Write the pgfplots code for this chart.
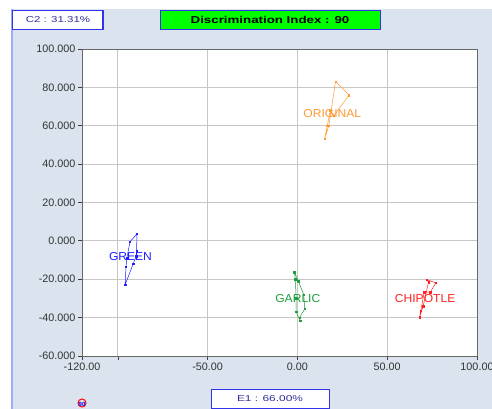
\documentclass[border=0pt]{standalone}
\usepackage{pgfplots}
\pgfplotsset{compat=1.18}
\usepackage{fontspec}
\setmainfont{Liberation Sans}
\definecolor{bgc}{HTML}{DAE3EE}
\definecolor{edgeb}{HTML}{9CAEF2}
\definecolor{boxb}{HTML}{3333EE}
\definecolor{txtb}{HTML}{2E2EA0}
\definecolor{cgreen}{HTML}{1F1FFF}
\definecolor{cgarlic}{HTML}{1E9E3C}
\definecolor{cchip}{HTML}{FF2020}
\definecolor{corig}{HTML}{FF9A33}
\definecolor{lime}{HTML}{00FF00}
\begin{document}
\begin{tikzpicture}[x=1pt,y=1pt]
\useasboundingbox (0,0) rectangle (492,409);
\fill[bgc] (12,0) rectangle (492,400);
\draw[edgeb,line width=1.5pt] (12,0) -- (12,400);
% top boxes
\draw[boxb,fill=white,line width=0.6pt] (12,380) rectangle (103,399);
\draw[boxb,line width=1.5pt] (103,380) -- (103,399);
\node[txtb,font=\fontsize{8.5}{10}\selectfont,xscale=1.35] at (58,389.5) {C2 : 31.31\%};
\draw[boxb,fill=lime,line width=0.6pt] (160,380) rectangle (380,399);
\node[font=\fontsize{10}{11}\selectfont\bfseries,xscale=1.33] at (270,389.5) {Discrimination Index : 90};
\draw[boxb,fill=white,line width=0.6pt] (211,1) rectangle (329,20);
\node[txtb,font=\fontsize{8.5}{10}\selectfont,xscale=1.4] at (270,10.5) {E1 : 66.00\%};
\draw[red,line width=1pt] (82,6) circle (4);
\node[blue,font=\fontsize{6}{6}\selectfont\bfseries,inner sep=0pt] at (82,5) {90};
\begin{axis}[
  at={(82pt,53pt)}, anchor=south west,
  scale only axis, width=395pt, height=307pt,
  xmin=-120, xmax=100, ymin=-60, ymax=100,
  axis background/.style={fill=white},
  axis line style={black!60, line width=0.8pt},
  grid=major, grid style={black!22, line width=0.9pt},
  xtick={-120,-100,-50,0,50,100},
  xticklabels={-120.00,,-50.00,0.00,50.00,100.00},
  ytick={-60,-40,-20,0,20,40,60,80,100},
  yticklabels={-60.000,-40.000,-20.000,0.000,20.000,40.000,60.000,80.000,100.000},
  tick align=outside, xtick pos=bottom, ytick pos=left,
  major tick length=4pt, tick style={black!75, line width=0.8pt},
  ticklabel style={font=\fontsize{10.8}{12}\selectfont, text=black!80},
  xticklabel style={yshift=1pt},
  yticklabel style={xshift=1pt},
  clip=false,
  every axis plot/.append style={line width=0.5pt, mark=square*, mark size=0.75pt},
]
\addplot[cgreen, mark options={fill=cgreen}] coordinates {
(-89.4,3.6) (-89.6,-5.2) (-89.8,-8) (-91.5,-12) (-96,-22.9) (-95.5,-13.5) (-95,-9) (-93.3,-0.5) (-89.4,3.6)};
\addplot[cgarlic, mark options={fill=cgarlic}] coordinates {
(-1.7,-16.3) (-1.2,-20) (-0.7,-30) (-0.8,-37) (1.5,-41.5) (1.2,-40) (4.1,-35.4) (3.5,-28) (0.5,-21) (-1.7,-16.3)};
\addplot[cchip, mark options={fill=cchip}] coordinates {
(71.9,-20.2) (77.1,-21.9) (74,-26.7) (70.6,-26.7) (68.7,-36.3) (68,-39.8) (70,-34) (73,-21.5) (71.9,-20.2)};
\addplot[corig, mark options={fill=corig}] coordinates {
(21.2,83) (28.7,76) (20.3,65.3) (18.4,67.9) (16.6,60) (15.1,53.1) (17.5,60) (21.2,83)};
\node[cgreen,font=\fontsize{11.5}{13}\selectfont,xscale=1.05] at (axis cs:-93,-8.3) {GREEN};
\node[cgarlic,font=\fontsize{11.5}{13}\selectfont,xscale=1.05] at (axis cs:0.2,-29.8) {GARLIC};
\node[cchip,font=\fontsize{11.5}{13}\selectfont,xscale=1.05] at (axis cs:71.1,-29.8) {CHIPOTLE};
\node[corig,font=\fontsize{11.5}{13}\selectfont,xscale=1.05] at (axis cs:19.4,66.5) {ORIGINAL};
\end{axis}
\end{tikzpicture}
\end{document}
